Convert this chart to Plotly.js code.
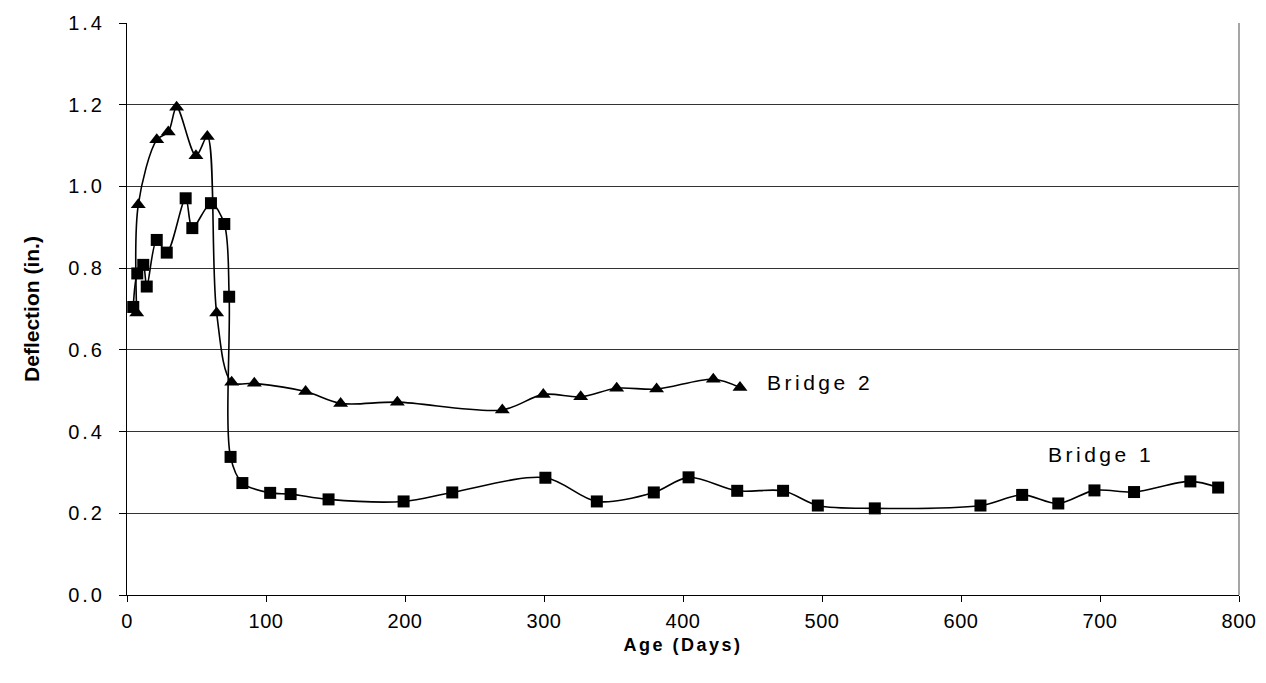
<!DOCTYPE html>
<html>
<head>
<meta charset="utf-8">
<script src="https://cdn.plot.ly/plotly-3.0.1.min.js"></script>
<style>
  html, body { margin: 0; padding: 0; background: #fff; }
  #chart { width: 1266px; height: 683px; }
  .ytick text { letter-spacing: 3px; }
  .xtick text { letter-spacing: 0.5px; }
  .xtitle { letter-spacing: 2.5px; }
  .annotation-text { letter-spacing: 3.5px; }
</style>
</head>
<body>
<div id="chart"></div>
<script>
// Bridge 1 (squares)
const bridge1Days = [4.5, 7.4, 11.7, 14.2, 21.4, 28.6, 42.2, 47, 60.4, 70, 73.5, 74.5, 83, 103, 117.7, 145, 199, 234, 301, 338, 379, 404, 439, 472, 497, 538, 614, 644, 670, 696, 724.5, 765, 785];
const bridge1Defl = [0.705, 0.787, 0.808, 0.755, 0.869, 0.838, 0.971, 0.898, 0.959, 0.908, 0.730, 0.338, 0.274, 0.250, 0.247, 0.234, 0.229, 0.251, 0.287, 0.229, 0.251, 0.288, 0.255, 0.255, 0.219, 0.212, 0.219, 0.245, 0.224, 0.256, 0.252, 0.278, 0.263];

// Bridge 2 (triangles)
const bridge2Days = [7, 8.1, 21.4, 29.7, 35.7, 49.6, 57.8, 64.5, 75.3, 91.6, 128.5, 153.7, 194.5, 270, 299.5, 326.4, 352.3, 381, 421.8, 441];
const bridge2Defl = [0.690, 0.955, 1.114, 1.133, 1.194, 1.075, 1.122, 0.690, 0.521, 0.518, 0.498, 0.469, 0.472, 0.453, 0.491, 0.485, 0.506, 0.504, 0.528, 0.508];

const seriesLabels = ["Bridge 1", "Bridge 2"];
const xTitle = "Age (Days)";
const yTitle = "Deflection (in.)";

const font = "Arial, 'Liberation Sans', sans-serif";

const traces = [
  {
    x: bridge1Days, y: bridge1Defl, name: seriesLabels[0],
    mode: "lines+markers", type: "scatter",
    line: { color: "#000", width: 1.6, shape: "spline", smoothing: 0.9 },
    marker: { symbol: "square", size: 12, color: "#000" }
  },
  {
    x: bridge2Days, y: bridge2Defl, name: seriesLabels[1],
    mode: "lines+markers", type: "scatter",
    line: { color: "#000", width: 1.6, shape: "spline", smoothing: 0.9 },
    marker: { symbol: "triangle-up", size: 13, color: "#000" }
  }
];

const layout = {
  width: 1266, height: 683,
  margin: { l: 127, r: 27, t: 23, b: 88 },
  paper_bgcolor: "#fff", plot_bgcolor: "#fff",
  showlegend: false,
  font: { family: font, color: "#000", size: 17 },
  xaxis: {
    range: [0, 800], dtick: 100, tick0: 0,
    showgrid: false, zeroline: false,
    showline: true, linecolor: "#000", linewidth: 1,
    ticks: "outside", ticklen: 6, tickcolor: "#000",
    ticklabelstandoff: 2,
    tickfont: { family: font, size: 20 },
    title: { text: xTitle, font: { family: font, size: 18, weight: "bold" }, standoff: 7 }
  },
  yaxis: {
    range: [0, 1.4], dtick: 0.2, tick0: 0, tickformat: ".1f",
    showgrid: true, gridcolor: "#333", gridwidth: 1,
    zeroline: false,
    showline: true, linecolor: "#000", linewidth: 1,
    ticks: "outside", ticklen: 7, tickcolor: "#000",
    ticklabelstandoff: 10,
    tickfont: { family: font, size: 20 },
    title: { text: yTitle, font: { family: font, size: 21, weight: "bold" }, standoff: 22 }
  },
  shapes: [
    { type: "line", xref: "paper", yref: "paper", x0: 1, x1: 1, y0: 0, y1: 1,
      line: { color: "#888", width: 1.5 } }
  ],
  annotations: [
    { x: 700.7, y: 0.343, xref: "x", yref: "y", text: seriesLabels[0], showarrow: false,
      xanchor: "center", yanchor: "middle", font: { family: font, size: 21, color: "#000" } },
    { x: 498.6, y: 0.520, xref: "x", yref: "y", text: seriesLabels[1], showarrow: false,
      xanchor: "center", yanchor: "middle", font: { family: font, size: 21, color: "#000" } }
  ]
};

Plotly.newPlot("chart", traces, layout, { displayModeBar: false, staticPlot: true });
</script>
</body>
</html>
